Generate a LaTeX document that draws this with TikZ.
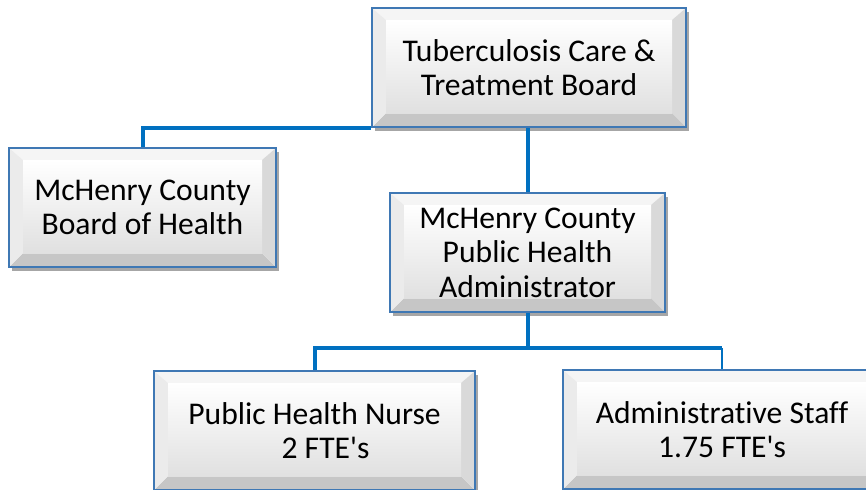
\documentclass[tikz,border=0pt]{standalone}
\usepackage{fontspec}
\setmainfont{Carlito}[Ligatures={TeXOff,NoCommon}]
\usetikzlibrary{shadows,calc}
\definecolor{connblue}{HTML}{0070C0}
\definecolor{framecol}{HTML}{3F78B4}
\tikzset{
  orgbox/.style={draw=framecol, line width=0.8pt, minimum height=59.5pt, inner sep=0pt,
    align=center, font=\fontsize{15.8}{17.3}\selectfont, fill=white,
    drop shadow={shadow xshift=1.5pt, shadow yshift=-2pt, opacity=0.35, fill=black},
    path picture={
      \path (path picture bounding box.south west) coordinate (pA)
            (path picture bounding box.north east) coordinate (pB);
      \coordinate (iA) at ($(pA)+(7pt,7pt)$);
      \coordinate (iB) at ($(pB)+(-7pt,-6pt)$);
      \fill[gray!8] (pA |- pB) -- (pB) -- (iB) -- (iA |- iB) -- cycle;
      \fill[gray!45] (pA) -- (pB |- pA) -- (iB |- iA) -- (iA) -- cycle;
      \fill[gray!16] (pA) -- (iA) -- (iA |- iB) -- (pA |- pB) -- cycle;
      \fill[gray!30] (pB |- pA) -- (pB) -- (iB) -- (iB |- iA) -- cycle;
      \shade[top color=white, bottom color=gray!24] (iA) rectangle (iB);}},
  connline/.style={draw=connblue, line width=2pt},
  connthin/.style={draw=connblue, line width=1pt},
}
\begin{document}
\begin{tikzpicture}[x=0.5pt, y=-0.5pt]
\useasboundingbox (0,0) rectangle (866,489);
\clip (0,0) rectangle (866,489);
\node[orgbox, minimum width=157pt] (top) at (529,67.5) {Tuberculosis Care \&\\Treatment Board};
\node[orgbox, minimum width=133.5pt] (boh) at (142.5,207.5) {McHenry County\\Board of Health};
\node[orgbox, minimum width=137.5pt] (adm) at (527.5,252.5) {McHenry County\\Public Health\\Administrator};
\node[orgbox, minimum width=160.5pt] (nurse) at (314.5,430.5) {Public Health Nurse\\\hspace*{11pt}2 FTE's};
\node[orgbox, minimum width=159pt] (staff) at (722,429.5) {Administrative Staff\\1.75 FTE's};
\coordinate (bus) at (527.5,348);
\coordinate (rc) at (staff.north |- bus);
\draw[connline] (adm.north) -- (adm.north |- top.south);
\draw[connline] (top.south west) -- (boh.north |- top.south west) -- (boh.north);
\draw[connline] (adm.south) -- (bus) -| (nurse.north);
\draw[connline] (bus) -- (rc);
\draw[connthin] (rc) -- (staff.north);
\end{tikzpicture}
\end{document}
